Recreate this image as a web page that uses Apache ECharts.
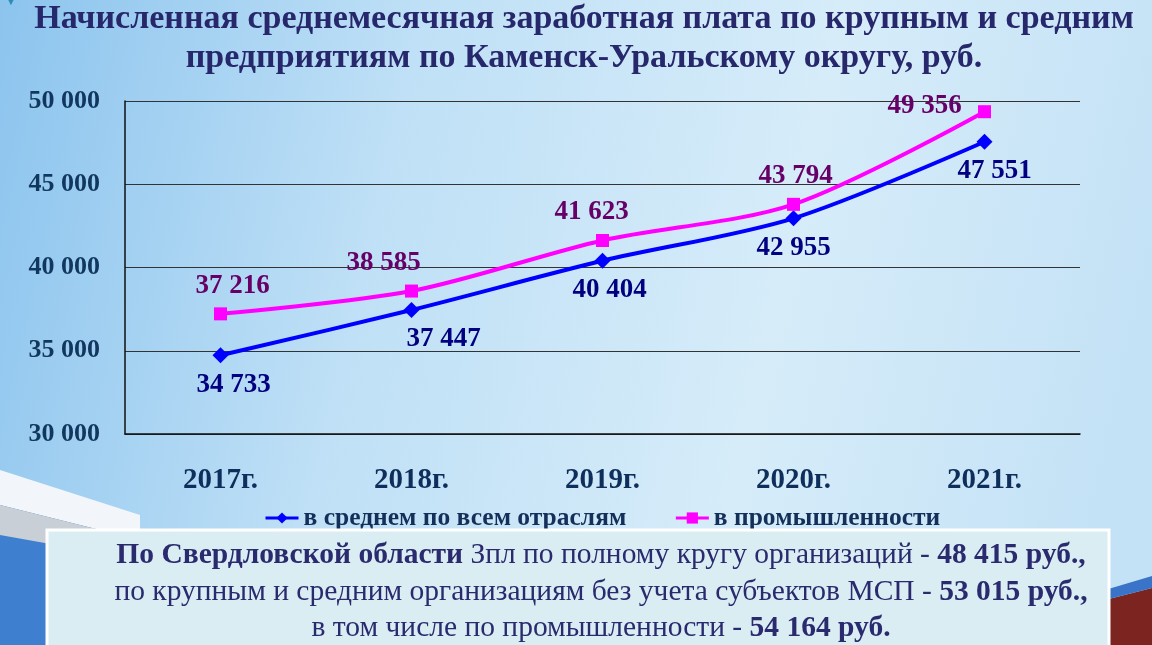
<!DOCTYPE html>
<html>
<head>
<meta charset="utf-8">
<script src="https://cdn.jsdelivr.net/npm/echarts@6/dist/echarts.min.js"></script>
<style>
  html, body { margin: 0; padding: 0; }
  #chart { width: 1152px; height: 645px; }
</style>
</head>
<body>
<div id="chart"></div>
<script>
// данные
const years = ['2017г.', '2018г.', '2019г.', '2020г.', '2021г.'];
const avgAll = [34733, 37447, 40404, 42955, 47551];
const industry = [37216, 38585, 41623, 43794, 49356];
const seriesNames = ['в среднем по всем отраслям', 'в промышленности'];
const titleLines = [
  'Начисленная среднемесячная заработная плата по крупным и средним',
  'предприятиям по Каменск-Уральскому округу, руб.'
];
const noteLines = [
  '{b|По Свердловской области} Зпл по полному кругу организаций - {b|48 415 руб.,}',
  'по крупным и средним организациям без учета субъектов МСП - {b|53 015 руб.,}',
  'в том числе по промышленности - {b|54 164 руб.}'
];

const serif = 'Liberation Serif, Times New Roman, serif';
const fmt = v => String(v).replace(/\B(?=(\d{3})+(?!\d))/g, ' ');

// смещения подписей
const blueOff = [[13, 0], [32, 0], [7, 0], [0, 0], [10, 0]];
const pinkOff = [[12, 0], [-28, 0], [-11, 0], [2, 0], [-60, 22]];

const chart = echarts.init(document.getElementById('chart'));

const titleText = (line, y) => ({
  type: 'text', x: 584, y: y,
  style: {
    text: line, align: 'center', verticalAlign: 'top',
    font: 'bold 34px ' + serif, fill: '#27276b'
  }
});

const noteText = (line, y) => ({
  type: 'text', z: 11, x: 601, y: y,
  style: {
    text: line, align: 'center', verticalAlign: 'top',
    font: '29.5px ' + serif,
    fill: '#2a2a6e',
    rich: { b: { font: 'bold 29.5px ' + serif, fill: '#2a2a6e' } }
  }
});

const option = {
  backgroundColor: {
    type: 'linear', x: 0, y: 0, x2: 1, y2: 0.4,
    colorStops: [
      { offset: 0, color: '#8cc4ee' },
      { offset: 0.35, color: '#bfe0f6' },
      { offset: 0.7, color: '#d6ecf9' },
      { offset: 1, color: '#c4e2f6' }
    ]
  },
  animation: false,
  graphic: [
    // декоративные полосы внизу слева
    { type: 'polygon', silent: true, z: 0,
      shape: { points: [[0, 500], [140, 530], [140, 645], [0, 645]] },
      style: { fill: '#3f7fd0' } },
    { type: 'polygon', silent: true, z: 0,
      shape: { points: [[0, 470], [140, 515], [140, 540], [0, 505]] },
      style: { fill: '#f2f6fa' } },
    { type: 'polygon', silent: true, z: 0,
      shape: { points: [[0, 505], [140, 540], [140, 560], [0, 535]] },
      style: { fill: '#c9cfd6' } },
    // справа внизу
    { type: 'polygon', silent: true, z: 0,
      shape: { points: [[1105, 600], [1152, 588], [1152, 645], [1105, 645]] },
      style: { fill: '#7b2420' } },
    { type: 'polygon', silent: true, z: 0,
      shape: { points: [[1105, 590], [1152, 576], [1152, 588], [1105, 600]] },
      style: { fill: '#3a74c8' } },
    // заголовок
    titleText(titleLines[0], 2),
    titleText(titleLines[1], 41),
    { type: 'text', left: 4, top: -6,
      style: { text: '▼', font: '14px sans-serif', fill: '#2a8fb8' } },
    // блок с областными данными
    { type: 'rect', z: 10,
      shape: { x: 47, y: 530, width: 1062, height: 118 },
      style: { fill: '#daedf3', stroke: '#ffffff', lineWidth: 3 } },
    noteText(noteLines[0], 540),
    noteText(noteLines[1], 577),
    noteText(noteLines[2], 613)
  ],
  legend: {
    top: 500,
    left: 259,
    itemGap: 48,
    itemWidth: 33,
    itemHeight: 14,
    textStyle: { fontFamily: serif, fontWeight: 'bold', fontSize: 25.5, color: '#14305a' },
    data: [
      { name: seriesNames[0], lineStyle: { width: 3 } },
      { name: seriesNames[1], lineStyle: { width: 3 } }
    ]
  },
  grid: { left: 125, right: 72, top: 101, bottom: 211 },
  xAxis: {
    type: 'category',
    data: years,
    boundaryGap: true,
    axisLine: { lineStyle: { color: '#111', width: 1.5 } },
    axisTick: { show: false },
    axisLabel: {
      margin: 32,
      fontFamily: serif, fontWeight: 'bold', fontSize: 29, color: '#0e2f5c'
    }
  },
  yAxis: {
    type: 'value',
    min: 30000,
    max: 50000,
    interval: 5000,
    axisLine: { show: true, lineStyle: { color: '#111', width: 1.5 } },
    axisTick: { show: false },
    splitLine: { lineStyle: { color: '#333', width: 1.2 } },
    axisLabel: {
      margin: 25,
      formatter: fmt,
      fontFamily: serif, fontWeight: 'bold', fontSize: 26, color: '#12375f'
    }
  },
  series: [
    {
      name: seriesNames[0],
      type: 'line',
      smooth: 0.3,
      symbol: 'diamond',
      symbolSize: 16,
      lineStyle: { color: '#0000ff', width: 4 },
      itemStyle: { color: '#0000ff' },
      data: avgAll.map((v, i) => ({
        value: v,
        label: { offset: blueOff[i] }
      })),
      label: {
        show: true,
        position: 'bottom',
        distance: 8,
        formatter: p => fmt(p.value),
        fontFamily: serif, fontWeight: 'bold', fontSize: 27, color: '#000080'
      }
    },
    {
      name: seriesNames[1],
      type: 'line',
      smooth: 0.3,
      symbol: 'rect',
      symbolSize: 13,
      lineStyle: { color: '#ff00ff', width: 4 },
      itemStyle: { color: '#ff00ff' },
      data: industry.map((v, i) => ({
        value: v,
        label: { offset: pinkOff[i] }
      })),
      label: {
        show: true,
        position: 'top',
        distance: 8,
        formatter: p => fmt(p.value),
        fontFamily: serif, fontWeight: 'bold', fontSize: 27, color: '#660066'
      }
    }
  ]
};

chart.setOption(option);
</script>
</body>
</html>
